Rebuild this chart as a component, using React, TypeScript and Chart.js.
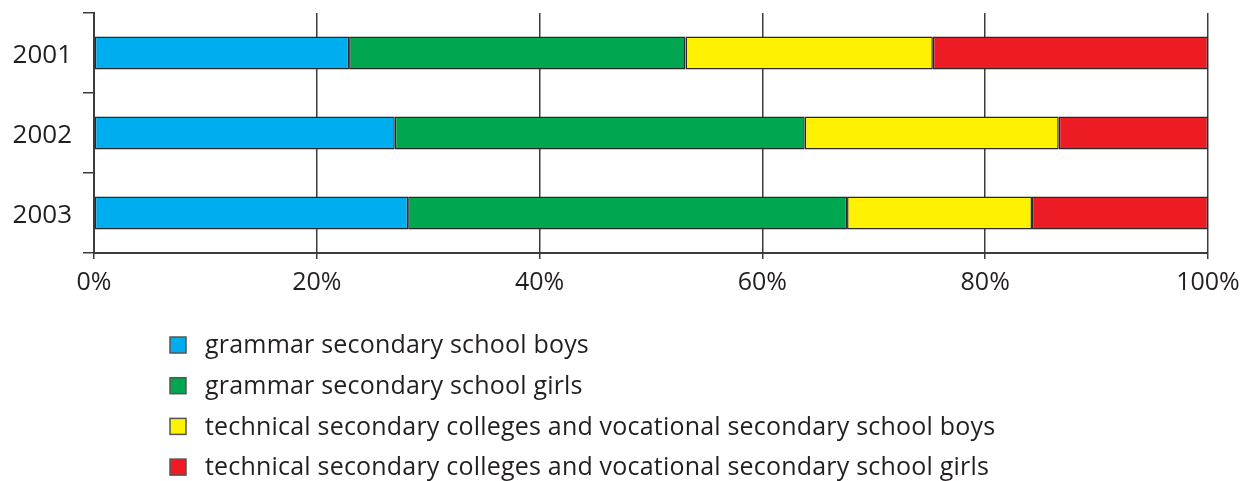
import React, { useEffect, useRef } from "react";
import { Chart, registerables } from "chart.js";

Chart.register(...registerables);

const years = ["2001", "2002", "2003"];
const seriesLabels = [
  "grammar secondary school boys",
  "grammar secondary school girls",
  "technical secondary colleges and vocational secondary school boys",
  "technical secondary colleges and vocational secondary school girls",
];
const grammarBoys = [22.9, 27.0, 28.2];
const grammarGirls = [30.2, 36.8, 39.4];
const technicalBoys = [22.2, 22.8, 16.6];
const technicalGirls = [24.7, 13.4, 15.8];
const seriesColors = ["#00adef", "#00a650", "#fff200", "#ed1c24"];
const xTicks = [0, 20, 40, 60, 80, 100];

const FONT = "'Open Sans', 'Noto Sans', sans-serif";
const TEXT = "#231f20";
const LINE = "#3c3c3c";

const legendPlugin = {
  id: "listLegend",
  afterDraw(chart: any) {
    const ctx = chart.ctx;
    const x0 = 170;
    const y0 = 337;
    const step = 40.7;
    const box = 16;
    ctx.save();
    ctx.font = `25px ${FONT}`;
    try {
      (ctx as any).letterSpacing = "0.2px";
    } catch (e) {}
    ctx.textBaseline = "middle";
    ctx.textAlign = "left";
    chart.data.datasets.forEach((ds: any, i: number) => {
      const y = y0 + i * step;
      ctx.fillStyle = ds.backgroundColor;
      ctx.fillRect(x0, y, box, box);
      ctx.strokeStyle = "#555555";
      ctx.lineWidth = 1.5;
      ctx.strokeRect(x0, y, box, box);
      ctx.fillStyle = TEXT;
      ctx.fillText(ds.label, 205, y + box / 2 + 1);
    });
    ctx.restore();
  },
};

export default function App() {
  const ref = useRef<HTMLCanvasElement>(null);
  useEffect(() => {
    document.body.style.margin = "0";
    const values = [grammarBoys, grammarGirls, technicalBoys, technicalGirls];
    const chart = new Chart(ref.current!, {
      type: "bar",
      data: {
        labels: years,
        datasets: values.map((v, i) => ({
          label: seriesLabels[i],
          data: v,
          backgroundColor: seriesColors[i],
          borderColor: "#2a2a2a",
          borderWidth: 1.5,
          borderSkipped: false,
          categoryPercentage: 1,
          barPercentage: 0.41,
        })),
      },
      options: {
        indexAxis: "y",
        animation: false,
        responsive: false,
        maintainAspectRatio: false,
        layout: { padding: { top: 13, right: 47, left: 0, bottom: 178 } },
        plugins: { legend: { display: false }, tooltip: { enabled: false } },
        scales: {
          x: {
            stacked: true,
            min: 0,
            max: 100,
            afterBuildTicks: (s: any) => {
              s.ticks = xTicks.map((v) => ({ value: v }));
            },
            afterFit: (s: any) => {
              s.height = 50;
            },
            ticks: {
              color: TEXT,
              font: { family: FONT, size: 25 },
              padding: 9,
              callback: (v: any) => v + "%",
            },
            grid: { color: LINE, lineWidth: 1.5, tickLength: 6, drawTicks: true },
            border: { color: LINE, width: 2 },
          },
          y: {
            stacked: true,
            afterFit: (s: any) => {
              s.width = 94;
              s.paddingTop = 0;
              s.paddingBottom = 0;
            },
            ticks: {
              color: TEXT,
              font: { family: FONT, size: 26, lineHeight: 1 },
              padding: 11,
              labelOffset: 3,
            },
            grid: {
              offset: true,
              drawOnChartArea: false,
              drawTicks: true,
              tickLength: 11,
              color: LINE,
              lineWidth: 1.5,
            },
            border: { color: LINE, width: 2 },
          },
        },
      },
      plugins: [legendPlugin],
    });
    return () => chart.destroy();
  }, []);
  return (
    <div style={{ width: 1255, height: 481 }}>
      <canvas ref={ref} width={1255} height={481} style={{ display: "block" }} />
    </div>
  );
}
